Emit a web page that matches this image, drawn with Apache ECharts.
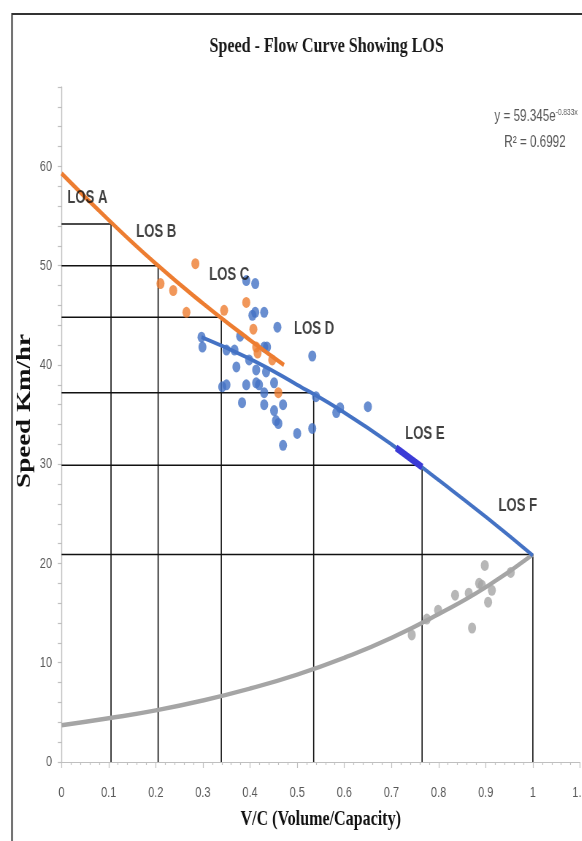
<!DOCTYPE html>
<html>
<head>
<meta charset="utf-8">
<script src="https://cdn.jsdelivr.net/npm/echarts@6/dist/echarts.min.js"></script>
<style>
  html, body { margin: 0; padding: 0; background: #fff; overflow: hidden; }
  #wrap { width: 582px; height: 841px; overflow: hidden; position: relative; }
  /* the chart is laid out wide and then narrowed, giving the condensed lettering */
  #chart { width: 797px; height: 841px; transform: scaleX(0.73); transform-origin: 0 0; }
</style>
</head>
<body>
<div id="wrap"><div id="chart"></div></div>
<script>
// Level-of-service thresholds: V/C ratio and speed at each LOS boundary
const losNames = ['LOS A', 'LOS B', 'LOS C', 'LOS D', 'LOS E', 'LOS F'];
const losVC = [0.105, 0.205, 0.339, 0.535, 0.765, 1.0];
const losSpeed = [54.2, 50.0, 44.8, 37.2, 29.9, 20.9];
// where each LOS caption sits, in (V/C, speed) units
const losLabelAt = [[0.055, 56.8], [0.201, 53.4], [0.356, 49.1], [0.536, 43.6], [0.771, 33.0], [0.968, 25.8]];

// observed speed vs V/C, three groups
const orangeObs = [
  [0.284, 50.2], [0.210, 48.2], [0.237, 47.5], [0.265, 45.3], [0.345, 45.5],
  [0.392, 46.3], [0.407, 43.6], [0.413, 41.8], [0.416, 41.2], [0.447, 40.5], [0.460, 37.2]
];
const blueObs = [
  [0.392, 48.5], [0.411, 48.2], [0.430, 45.3], [0.405, 45.0], [0.411, 45.3], [0.458, 43.8],
  [0.532, 40.9], [0.297, 42.8], [0.299, 41.8], [0.350, 41.5], [0.367, 41.5], [0.371, 39.8],
  [0.398, 40.5], [0.413, 39.5], [0.434, 39.3], [0.430, 41.8], [0.350, 38.0], [0.341, 37.8],
  [0.392, 38.0], [0.413, 38.2], [0.419, 38.0], [0.451, 38.2], [0.430, 37.2], [0.383, 36.2],
  [0.430, 36.0], [0.451, 35.4], [0.470, 36.0], [0.455, 34.4], [0.460, 34.1], [0.500, 33.1],
  [0.532, 33.6], [0.470, 31.9], [0.540, 36.8], [0.583, 35.2], [0.591, 35.7], [0.650, 35.8],
  [0.379, 42.9], [0.436, 41.8]
];
const grayObs = [
  [0.898, 19.8], [0.886, 18.0], [0.892, 17.8], [0.913, 17.3], [0.905, 16.1], [0.835, 16.8],
  [0.864, 17.0], [0.799, 15.3], [0.775, 14.4], [0.743, 12.8], [0.871, 13.5], [0.953, 19.1]
];

// fitted curves
const orangeFit = [[0, 59.3], [0.1, 54.6], [0.2, 50.2], [0.3, 46.2], [0.4, 42.5], [0.472, 40.0]];
const blueFit = [[0.297, 42.8], [0.4, 40.6], [0.5, 38.0], [0.6, 35.2], [0.7, 32.0], [0.8, 28.4], [0.9, 24.7], [1.0, 20.8]];
const grayFit = [[0, 3.7], [0.1, 4.4], [0.2, 5.2], [0.3, 6.2], [0.4, 7.4], [0.5, 8.8], [0.6, 10.5], [0.7, 12.5], [0.8, 14.9], [0.9, 17.6], [1.0, 20.9]];
const losEBand = [[0.71, 31.65], [0.765, 29.7]];

// horizontal squeeze applied to the chart box (see #chart)
const SX = 0.73;
const wx = x => x / SX;   // on-screen x -> chart x

const sans = "'Liberation Sans', Arial, sans-serif";
const serif = "'Liberation Serif', 'Times New Roman', serif";

// one open box per LOS threshold: across from the speed axis, then down to V/C
const boxSeries = losNames.map((n, i) => ({
  type: 'line',
  name: n + ' box',
  data: [[0, losSpeed[i]], [losVC[i], losSpeed[i]], [losVC[i], 0]],
  symbol: 'none',
  lineStyle: { color: '#111', width: 1.6 },
  z: 1,
  silent: true
}));

const chart = echarts.init(document.getElementById('chart'), null, { renderer: 'canvas' });
chart.setOption({
  animation: false,
  backgroundColor: '#fff',
  title: {
    text: 'Speed - Flow Curve Showing LOS',
    left: wx(323), textAlign: 'center', top: 30,
    textStyle: { fontFamily: serif, fontWeight: 'bold', fontSize: 22, color: '#1a1a1a' }
  },
  grid: { left: wx(61.5), right: 2.5, top: 87, bottom: 79, outerBoundsMode: 'none', containLabel: false },
  xAxis: {
    type: 'value', min: 0, max: 1.1, interval: 0.1,
    name: 'V/C (Volume/Capacity)', nameLocation: 'middle', nameGap: 46,
    nameTextStyle: { fontFamily: serif, fontWeight: 'bold', fontSize: 22, color: '#111' },
    axisLine: { show: true, lineStyle: { color: '#bfbfbf', width: 1.2 } },
    axisTick: { show: true, length: 6, lineStyle: { color: '#bfbfbf', width: 1.2 } },
    minorTick: { show: true, splitNumber: 5, length: 3, lineStyle: { color: '#bfbfbf', width: 1.2 } },
    splitLine: { show: false },
    axisLabel: { margin: 23, fontFamily: sans, fontSize: 15, color: '#595959' }
  },
  yAxis: {
    type: 'value', min: 0, max: 68, interval: 2,
    axisLine: { show: true, lineStyle: { color: '#bfbfbf', width: 1.4 } },
    axisTick: { show: true, length: 5, lineStyle: { color: '#bfbfbf', width: 1.2 } },
    splitLine: { show: false },
    axisLabel: {
      margin: 13, fontFamily: sans, fontSize: 15, color: '#595959',
      formatter: v => (v % 10 === 0 ? String(v) : '')
    }
  },
  graphic: [
    { type: 'polyline', shape: { points: [[wx(12), 900], [wx(12), 14], [900, 14]] }, style: { stroke: '#333', lineWidth: 2, fill: null }, silent: true },
    // speed axis title
    {
      type: 'text', x: wx(25), y: 411, rotation: Math.PI / 2,
      style: { text: 'Speed Km/hr', align: 'center', verticalAlign: 'middle', fontFamily: serif, fontWeight: 'bold', fontSize: 27, fill: '#111' }
    },
    {
      type: 'text', x: wx(536), y: 117,
      style: {
        text: '{b|y = 59.345e}{s|-0.833x}', align: 'center', verticalAlign: 'middle',
        rich: {
          b: { fontFamily: sans, fontSize: 16, fill: '#595959' },
          s: { fontFamily: sans, fontSize: 9, fill: '#595959', verticalAlign: 'top', padding: [0, 0, 9, 0] }
        }
      }
    },
    { type: 'text', x: wx(535), y: 143, style: { text: 'R² = 0.6992', align: 'center', verticalAlign: 'middle', fontFamily: sans, fontSize: 16, fill: '#595959' } }
  ],
  series: [
    ...boxSeries,
    { type: 'line', name: 'gray fit', data: grayFit, smooth: true, symbol: 'none', lineStyle: { color: '#a5a5a5', width: 4.5 }, z: 2 },
    { type: 'scatter', name: 'gray', data: grayObs, symbolSize: 11, itemStyle: { color: '#a5a5a5' }, z: 3 },
    { type: 'scatter', name: 'blue', data: blueObs, symbolSize: 11, itemStyle: { color: '#4472c4' }, z: 3 },
    { type: 'line', name: 'blue fit', data: blueFit, smooth: true, symbol: 'none', lineStyle: { color: '#4472c4', width: 4 }, z: 4 },
    { type: 'line', name: 'LOS E band', data: losEBand, symbol: 'none', lineStyle: { color: '#3b3bd6', width: 7 }, z: 5 },
    { type: 'scatter', name: 'orange', data: orangeObs, symbolSize: 11, itemStyle: { color: '#ed7d31' }, z: 5 },
    { type: 'line', name: 'orange fit', data: orangeFit, smooth: true, symbol: 'none', lineStyle: { color: '#ed7d31', width: 4.5 }, z: 6 },
    {
      type: 'scatter', name: 'LOS labels', symbolSize: 0, z: 10, silent: true,
      data: losNames.map((n, i) => ({ value: losLabelAt[i], name: n })),
      label: {
        show: true, position: 'inside', formatter: p => p.name,
        fontFamily: sans, fontWeight: 'bold', fontSize: 18, color: '#111'
      }
    }
  ]
});
</script>
</body>
</html>
